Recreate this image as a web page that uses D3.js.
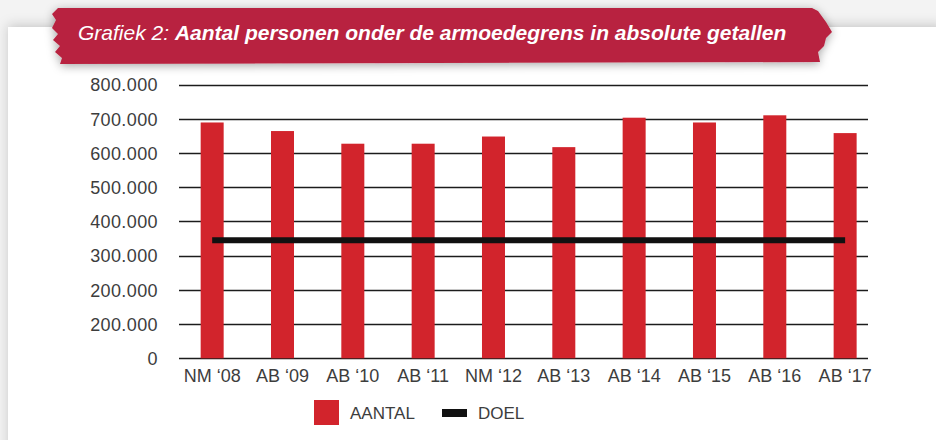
<!DOCTYPE html>
<html>
<head>
<meta charset="utf-8">
<script src="https://cdn.jsdelivr.net/npm/d3@7"></script>
<style>
  body { margin: 0; background: #f3f3f3; }
  svg { display: block; }
  .tick text { font-family: "Liberation Sans", Arial, sans-serif; fill: #3d3d3d; }
</style>
</head>
<body>
<script>
// data
var jaren = ["NM \u201808", "AB \u201809", "AB \u201810", "AB \u201811", "NM \u201812",
             "AB \u201813", "AB \u201814", "AB \u201815", "AB \u201816", "AB \u201817"];
var aantal = [689000, 664000, 627000, 627000, 648000, 617000, 703000, 689000, 710000, 658000];
var doel = [345000, 345000, 345000, 345000, 345000, 345000, 345000, 345000, 345000, 345000];
var yTicks = [0, 100000, 200000, 300000, 400000, 500000, 600000, 700000, 800000];
var yLabels = ["0", "200.000", "200.000", "300.000", "400.000", "500.000", "600.000", "700.000", "800.000"];

var width = 936, height = 440;
var red = "#d2242c", banner = "#b8213f";

var data = jaren.map(function(j, i){ return {jaar: j, aantal: aantal[i], doel: doel[i]}; });

var svg = d3.select("body").append("svg").attr("width", width).attr("height", height);

var defs = svg.append("defs");
var sh = defs.append("filter").attr("id", "shadow").attr("x", "-10%").attr("y", "-50%").attr("width", "120%").attr("height", "200%");
sh.append("feDropShadow").attr("dx", 0).attr("dy", 2).attr("stdDeviation", 5).attr("flood-color", "#000").attr("flood-opacity", 0.35);
var ps = defs.append("filter").attr("id", "panelshadow").attr("x", "-5%").attr("y", "-10%").attr("width", "110%").attr("height", "120%");
ps.append("feDropShadow").attr("dx", 0).attr("dy", -2).attr("stdDeviation", 6).attr("flood-color", "#000").attr("flood-opacity", 0.18);

// white panel
svg.append("rect").attr("x", 8).attr("y", 27).attr("width", width).attr("height", height)
    .attr("fill", "#fff").attr("filter", "url(#panelshadow)");

// title banner (torn edges)
var bannerPts = [[58,8],[812,8],[818,11],[826,22],[832,32],[826,38],[824,46],[818,52],[820,62],
                 [60,64],[62,58],[55,52],[60,46],[53,40],[58,34],[52,28],[56,20],[52,14]];
svg.append("path").attr("d", d3.line()(bannerPts) + "Z").attr("fill", banner).attr("filter", "url(#shadow)");

var title = svg.append("text").attr("x", 78).attr("y", 40)
    .attr("font-family", "'Liberation Sans Narrow', 'Liberation Sans', Arial, sans-serif")
    .attr("font-size", 21).attr("font-style", "italic").attr("fill", "#fff");
title.append("tspan").text("Grafiek 2: ");
title.append("tspan").attr("font-weight", "bold").text("Aantal personen onder de armoedegrens in absolute getallen");

// scales
var x = d3.scaleBand().domain(jaren).range([177, 880.3]).paddingInner(0.673).paddingOuter(0.3365);
var y = d3.scaleLinear().domain([0, 800000]).range([358.3, 84.5]);

var chartGroup = svg.append("g");

// gridlines
chartGroup.append("g").selectAll("line").data(yTicks).enter().append("line")
    .attr("x1", 179).attr("x2", 868)
    .attr("y1", function(d){ return Math.round(y(d)) + 0.5; })
    .attr("y2", function(d){ return Math.round(y(d)) + 0.5; })
    .attr("stroke", "#1c1c1c").attr("stroke-width", 1.3);

// y axis labels
var yAxis = d3.axisLeft(y).tickValues(yTicks).tickSize(0).tickPadding(0)
    .tickFormat(function(d, i){ return yLabels[i]; });
chartGroup.append("g").attr("transform", "translate(158,0)").call(yAxis)
    .call(function(g){ g.select(".domain").remove(); })
    .selectAll("text").attr("font-size", 18).attr("letter-spacing", "0.4px").attr("dy", "0.35em");

// bars
chartGroup.append("g").selectAll("rect").data(data).enter().append("rect")
    .attr("x", function(d){ return x(d.jaar); })
    .attr("width", x.bandwidth())
    .attr("y", function(d){ return y(d.aantal); })
    .attr("height", function(d){ return y(0) - y(d.aantal); })
    .attr("fill", red);

// goal line
var line = d3.line()
    .x(function(d){ return x(d.jaar) + x.bandwidth() / 2; })
    .y(function(d){ return y(d.doel); });
chartGroup.append("path").attr("d", line(data))
    .attr("fill", "none").attr("stroke", "#111").attr("stroke-width", 6);

// x axis labels
var xAxis = d3.axisBottom(x).tickSize(0).tickPadding(0);
chartGroup.append("g").attr("transform", "translate(0,382)").call(xAxis)
    .call(function(g){ g.select(".domain").remove(); })
    .selectAll("text").attr("font-size", 18).attr("dy", 0);

// legend
var legend = svg.append("g").attr("font-family", "'Liberation Sans', Arial, sans-serif")
    .attr("font-size", 17).attr("fill", "#3d3d3d");
legend.append("rect").attr("x", 314).attr("y", 400).attr("width", 25).attr("height", 25).attr("fill", red);
legend.append("text").attr("x", 350).attr("y", 419).text("AANTAL");
legend.append("rect").attr("x", 442).attr("y", 409).attr("width", 25).attr("height", 8).attr("fill", "#111");
legend.append("text").attr("x", 478).attr("y", 419).text("DOEL");
</script>
</body>
</html>
